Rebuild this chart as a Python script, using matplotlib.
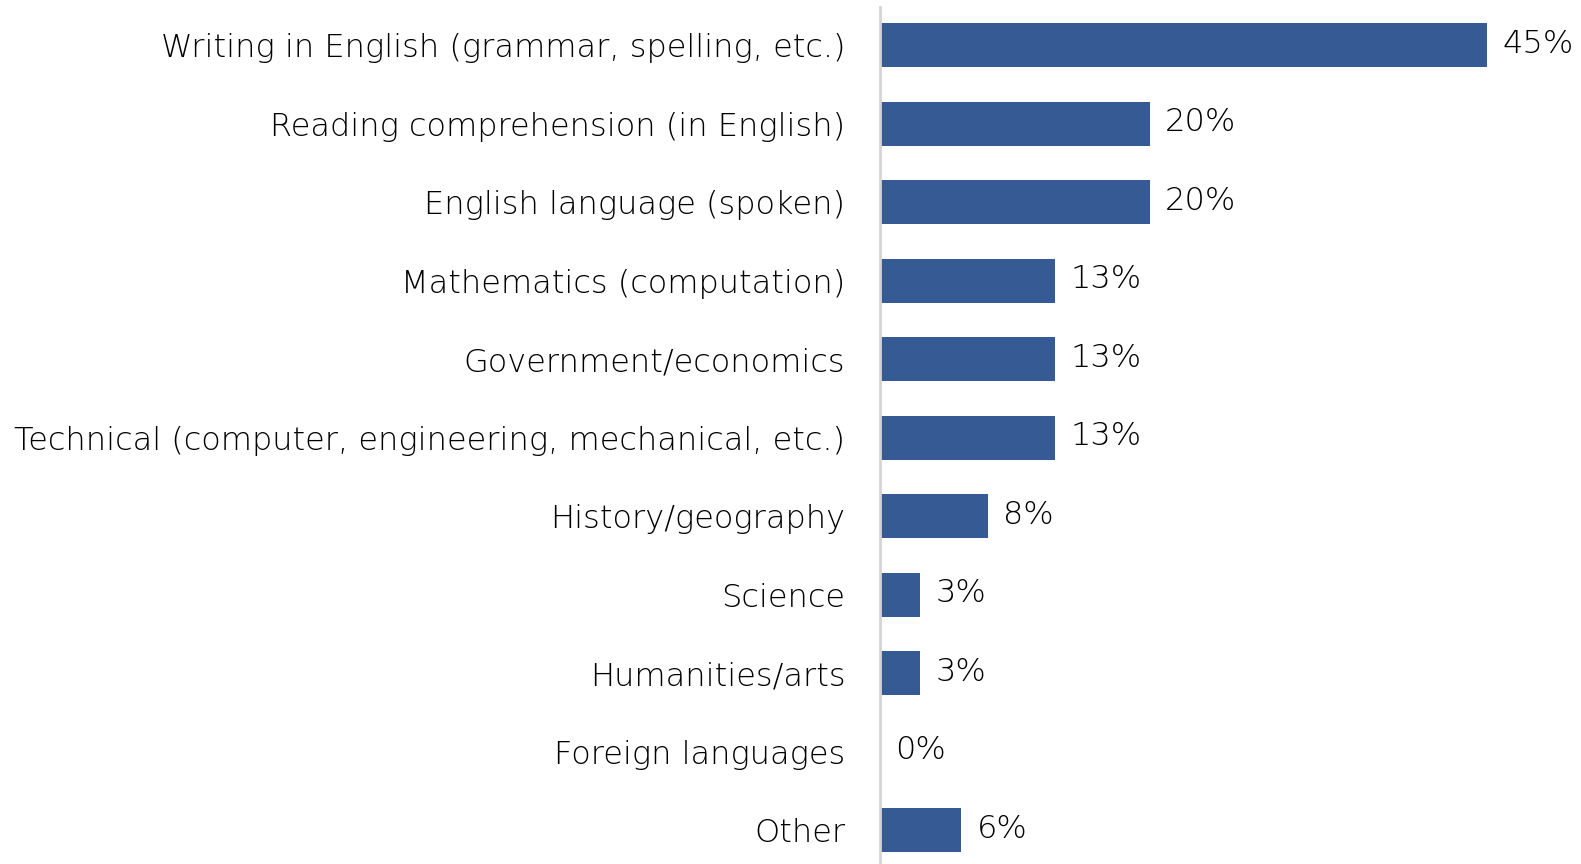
import matplotlib.pyplot as plt

categories = [
    "Writing in English (grammar, spelling, etc.)",
    "Reading comprehension (in English)",
    "English language (spoken)",
    "Mathematics (computation)",
    "Government/economics",
    "Technical (computer, engineering, mechanical, etc.)",
    "History/geography",
    "Science",
    "Humanities/arts",
    "Foreign languages",
    "Other",
]
values = [45, 20, 20, 13, 13, 13, 8, 3, 3, 0, 6]

BAR_COLOR = "#365a94"
TEXT_COLOR = "#000000"
FONT = dict(family="DejaVu Sans", weight="light", fontsize=23)

fig = plt.figure(figsize=(15.81, 8.64), dpi=100)
ax = fig.add_axes([880 / 1581, 0, 1 - 880 / 1581, 1 - 7 / 864])

y = list(range(len(categories)))
ax.barh(y, values, height=0.56, color=BAR_COLOR)

for yi, v in zip(y, values):
    ax.text(v + 1.15, yi - 0.02, f"{v}%", va="center", ha="left",
            color=TEXT_COLOR, **FONT)

ax.set_xlim(0, 52)
ax.set_ylim(10.43, -0.49)
ax.set_yticks(y)
ax.set_yticklabels(categories, color=TEXT_COLOR, **FONT)
ax.tick_params(axis="y", length=0, pad=25)
ax.set_xticks([])

for side in ["top", "right", "bottom"]:
    ax.spines[side].set_visible(False)
ax.spines["left"].set_color("#d4d4d4")
ax.spines["left"].set_linewidth(2)

fig.savefig("out.png", dpi=100, facecolor="white")
